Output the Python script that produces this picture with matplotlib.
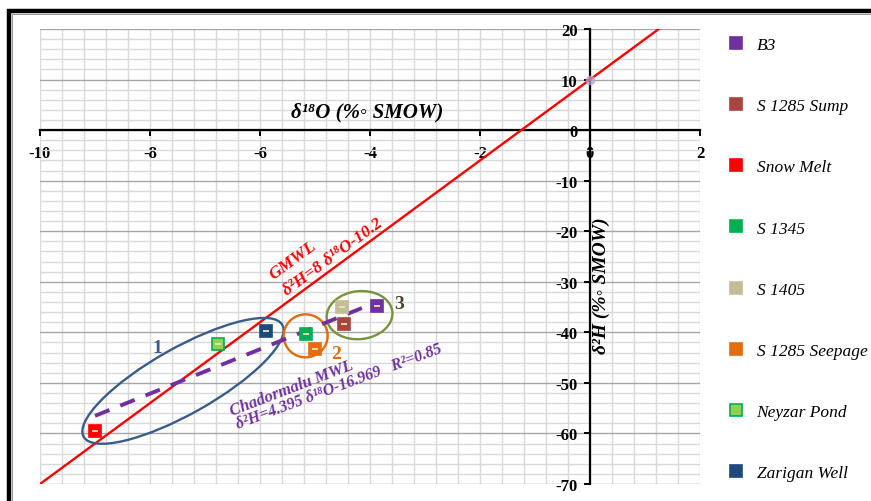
import matplotlib
matplotlib.use('Agg')

import matplotlib.pyplot as plt
from matplotlib.patches import Ellipse, Rectangle
from matplotlib.transforms import ScaledTranslation
from matplotlib.ticker import MultipleLocator

serif = ['Liberation Serif', 'DejaVu Serif']
plt.rcParams['font.family'] = serif

# Sample isotopes (d18O, d2H) per station
stations = ['B3', 'S 1285 Sump', 'Snow Melt', 'S 1345', 'S 1405',
            'S 1285 Seepage', 'Neyzar Pond', 'Zarigan Well']
d18o = [-3.87, -4.47, -9.0, -5.16, -4.51, -5.0, -6.77, -5.89]
d2h = [-34.8, -38.3, -59.5, -40.3, -35.0, -43.2, -42.3, -39.7]
fills = ['#7030a0', '#a9443f', '#ff0000', '#00b050', '#c4bd97',
         '#e46c0a', '#92d050', '#1f497d']
edges = ['#7030a0', '#a9443f', '#ff0000', '#00b050', '#c4bd97',
         '#e46c0a', '#00b050', '#1f497d']

# Global and local meteoric water lines
gmwl_slope, gmwl_intercept = 8, 10
gmwl_x = [-10, 1.25]
lmwl_slope, lmwl_intercept = 4.395, -16.969
lmwl_x = [-9.0, -3.87]

# Group outlines: centre (data), semi-axes (px), angle, colour, label
groups = [
    dict(c=(-7.40, -49.6), a=114, b=33, ang=29.4, col='#385d8a', lab='1', lpos=(-7.86, -43.0)),
    dict(c=(-5.17, -40.7), a=22, b=21.5, ang=0, col='#e46c0a', lab='2', lpos=(-4.62, -44.2)),
    dict(c=(-4.19, -36.6), a=33, b=24, ang=6, col='#77933c', lab='3', lpos=(-3.47, -34.2)),
]

fig = plt.figure(figsize=(8.71, 5.02), dpi=100)
ax = fig.add_axes([40 / 871, 17 / 502, 660 / 871, 455 / 502])
ax.set_xlim(-10, 2)
ax.set_ylim(-70, 20)

# grid: light verticals every 0.4, horizontals every 2 with darker tens
ax.xaxis.set_major_locator(MultipleLocator(2))
ax.xaxis.set_minor_locator(MultipleLocator(0.4))
ax.yaxis.set_major_locator(MultipleLocator(10))
ax.yaxis.set_minor_locator(MultipleLocator(2))
ax.grid(which='both', axis='x', color='#d9d9d9', lw=1.0)
ax.grid(which='minor', axis='y', color='#d9d9d9', lw=1.0)
ax.grid(which='major', axis='y', color='#a6a6a6', lw=1.0)
ax.set_axisbelow(True)

for s in ['top', 'right']:
    ax.spines[s].set_visible(False)
ax.spines['left'].set_position(('data', 0))
ax.spines['bottom'].set_position(('data', 0))
ax.spines['left'].set_linewidth(1.6)
ax.spines['bottom'].set_linewidth(1.6)
ax.tick_params(which='major', direction='out', length=4, width=1.4, labelsize=12)
ax.tick_params(which='minor', length=0)
ax.tick_params(axis='x', pad=7)
ax.tick_params(axis='y', pad=5)
ax.set_xticks([-10, -8, -6, -4, -2, 0, 2])
ax.set_xticklabels(['-10', '-8', '-6', '-4', '-2', '0', '2'], fontweight='bold')
ax.set_yticks(range(-70, 21, 10))
ax.set_yticklabels([str(v) for v in range(-70, 21, 10)], fontweight='bold')

# GMWL
gy = [gmwl_slope * x + gmwl_intercept for x in gmwl_x]
ax.plot(gmwl_x, gy, color='#ff0000', lw=1.7, zorder=3)
ax.plot([0], [gmwl_intercept], 'o', ms=6, color='#b7a5d3', alpha=0.7, zorder=3)

# group ellipses sized in pixels around data centres
for g in groups:
    tr = fig.dpi_scale_trans + ScaledTranslation(g['c'][0], g['c'][1], ax.transData)
    ax.add_patch(Ellipse((0, 0), 2 * g['a'] / 100, 2 * g['b'] / 100, angle=g['ang'],
                         transform=tr, fill=False, ec=g['col'], lw=1.7, zorder=4))
    ax.text(g['lpos'][0], g['lpos'][1], g['lab'], color=g['col'] if g['lab'] != '3' else '#4a452a',
            fontsize=14, fontweight='bold', ha='center', va='center', zorder=6)

# local regression line
ly = [lmwl_slope * x + lmwl_intercept for x in lmwl_x]
ax.plot(lmwl_x, ly, color='#7030a0', lw=2.8, dashes=(4, 3), zorder=5)

# sample points with tiny error marks
for i, name in enumerate(stations):
    ax.plot(d18o[i], d2h[i], 's', ms=9.3, mfc=fills[i], mec=edges[i], mew=1.2,
            label=name, ls='none', zorder=7)
    ax.plot(d18o[i], d2h[i], '_', ms=3.8, mew=1.3, color='#e6e6b8', zorder=8)

# line equations
ax.text(-5.76, -29.5, 'GMWL', color='#ff0000', fontsize=12.5, fontweight='bold',
        style='italic', rotation=36.3, rotation_mode='anchor', ha='left', va='baseline',
        family=serif, zorder=6)
ax.text(-5.51, -32.6, 'δ²H=8 δ¹⁸O-10.2', color='#ff0000', fontsize=12.5, fontweight='bold',
        style='italic', rotation=36.3, rotation_mode='anchor', ha='left', va='baseline',
        family=serif, zorder=6)
ax.text(-6.51, -56.4, 'Chadormalu MWL', color='#7030a0', fontsize=12, fontweight='bold',
        style='italic', rotation=21, rotation_mode='anchor', ha='left', va='baseline',
        family=serif, zorder=6)
ax.text(-6.40, -59.0, 'δ²H=4.395 δ¹⁸O-16.969   R²=0.85', color='#7030a0', fontsize=11.5,
        fontweight='bold', style='italic', rotation=20.5, rotation_mode='anchor',
        ha='left', va='baseline', family=serif, zorder=6)

# axis titles
ax.text(-4.05, 3.6, 'δ¹⁸O (%◦ SMOW)', fontsize=15, fontweight='bold', style='italic',
        ha='center', va='center', family=serif)
ax.text(0.2, -30.5, 'δ²H (%◦ SMOW)', fontsize=14, fontweight='bold', style='italic',
        ha='center', va='center', rotation=90, family=serif)

# legend column on the right
leg = fig.legend(loc='upper left', bbox_to_anchor=(727 / 871, 1 - 38 / 502),
                 frameon=False, fontsize=12.5, labelspacing=2.59, handlelength=1.0,
                 handletextpad=0.7, borderpad=0, borderaxespad=0, markerscale=0.9)
for t in leg.get_texts():
    t.set_fontstyle('italic')

# outer frame
fig.add_artist(Rectangle((9 / 871, -0.2), 1.2, 1.2 - 12 / 502, transform=fig.transFigure,
                         fill=False, ec='black', lw=3.2, clip_on=False))
fig.add_artist(Rectangle((12 / 871, -0.2), 1.2, 1.2 - 15 / 502, transform=fig.transFigure,
                         fill=False, ec='#999999', lw=0.7, clip_on=False))

fig.savefig('out.png', dpi=100)
